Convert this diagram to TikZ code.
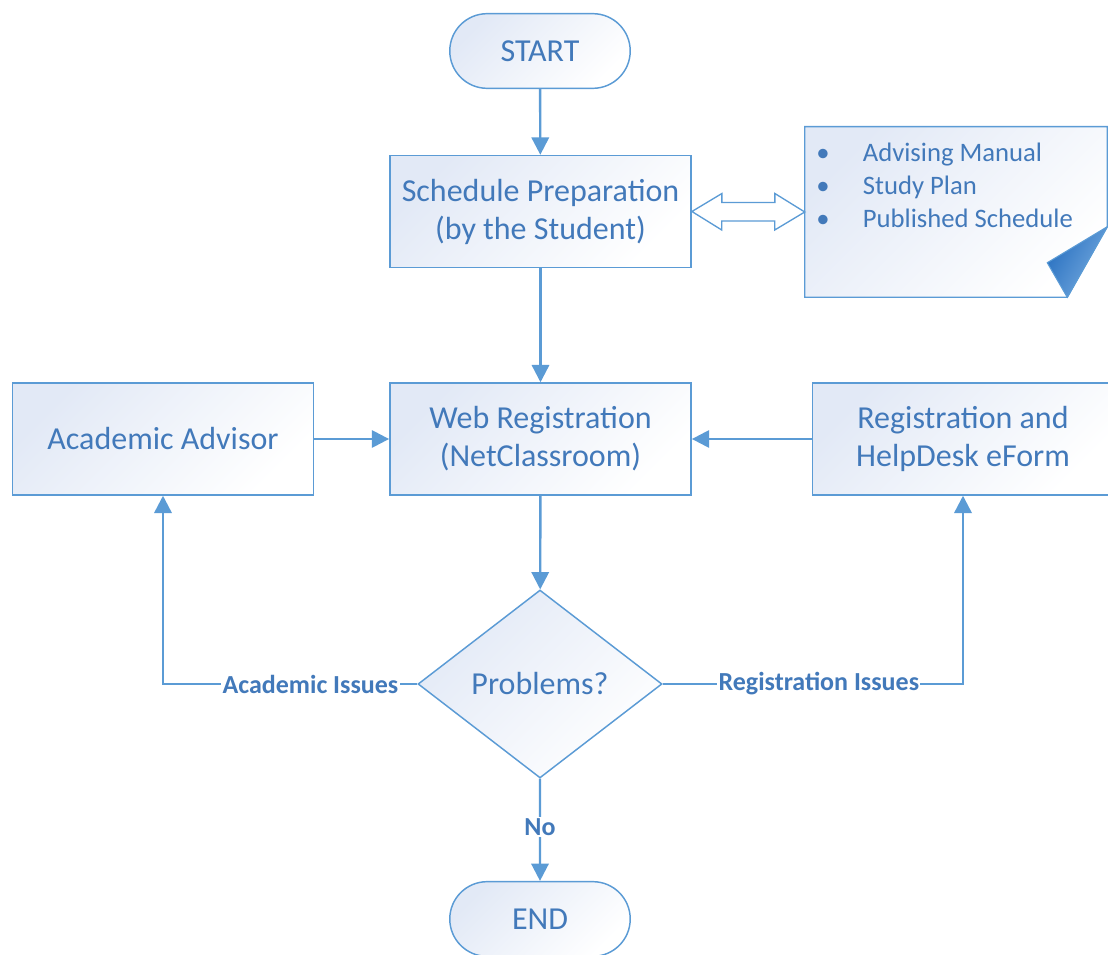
\documentclass[tikz,border=0pt]{standalone}
\usepackage{fontspec}
\setmainfont{Carlito}
\usepackage{tikz}
\usetikzlibrary{positioning,calc,arrows.meta,shapes.geometric,shapes.misc}
\definecolor{lineblue}{RGB}{91,155,213}
\definecolor{textblue}{RGB}{66,121,186}
\definecolor{fillblue}{RGB}{226,233,246}
\definecolor{folddark}{RGB}{40,112,192}
\definecolor{foldlight}{RGB}{120,172,224}

\begin{document}
\begin{tikzpicture}[x=0.75pt,y=-0.75pt,>={Triangle[width=13pt,length=13pt]},
	every node/.style={text=textblue},
	shaded/.style={draw=lineblue,line width=1.1pt,top color=fillblue,bottom color=white,shading angle=45},
	box/.style={shaded,rectangle,minimum width=226pt,minimum height=84pt,inner sep=0pt,align=center,font=\fontsize{24}{28.5}\selectfont},
	term/.style={shaded,rounded rectangle,minimum width=142pt,minimum height=56pt,font=\fontsize{24}{28.5}\selectfont},
	decision/.style={shaded,diamond,minimum width=183pt,minimum height=141pt,inner sep=0pt,font=\fontsize{24}{28.5}\selectfont},
	link/.style={draw=lineblue,line width=1.8pt,->},
	lbl/.style={fill=white,inner sep=1pt,font=\fontsize{19.5}{23}\selectfont\bfseries}]
	\useasboundingbox (0,0) rectangle (1108,955);

	\node [term] at (540,51) (start) {START};
	\node [box] at (540.5,211.5) (sched) {Schedule Preparation\\(by the Student)};
	\node [minimum width=226.5pt,minimum height=127.5pt,inner sep=0pt] at (956,212) (note) {};
	\node [box] at (540.5,439) (web) {Web Registration\\(NetClassroom)};
	\node [box] at (163,439) (advisor) {Academic Advisor};
	\node [box] at (963,439) (reg) {Registration and\\HelpDesk eForm};
	\node [decision] at (540,684) (dec) {Problems?};
	\node [term] at (540,919) (stop) {END};

	% note with folded corner
	\draw[shaded] (note.north west) -- (note.north east) -- ($(note.north east)+(0,100)$)
		-- ($(note.south east)+(-40,0)$) -- (note.south west) -- cycle;
	\draw[draw=lineblue,line width=0.8pt,left color=folddark,right color=foldlight,shading angle=60]
		($(note.north east)+(0,100)$) -- ($(note.north east)+(-60,136)$) -- ($(note.south east)+(-40,0)$) -- cycle;
	\node [anchor=base west,inner sep=0pt,font=\fontsize{20}{24.4}\selectfont] at (816,162) (notelist)
		{\begin{tabular}[t]{@{}l@{}}
		\textbullet\hspace{25pt}Advising Manual\\
		\textbullet\hspace{25pt}Study Plan\\
		\textbullet\hspace{25pt}Published Schedule
		\end{tabular}};

	% hollow double arrow
	\draw[draw=lineblue,line width=1pt,fill=white] (sched.east) -- ++(30,-18) -- ++(0,9) -- ++(53,0)
		-- ++(0,-9) -- (note.west) -- ++(-30,18) -- ++(0,-9) -- ++(-53,0) -- ++(0,9) -- cycle;

	\path[every edge/.style={link}]
	(start) edge (sched)
	(sched) edge (web)
	(advisor) edge (web)
	(reg) edge (web)
	(web) edge (dec)
	(dec) edge node[lbl,pos=0.47] {No} (stop);

	\draw[link] (dec.west) -| node[lbl,pos=0.21] {Academic Issues} (advisor.south);
	\draw[link] (dec.east) -| node[lbl,pos=0.26] {Registration Issues} (reg.south);
\end{tikzpicture}
\end{document}
